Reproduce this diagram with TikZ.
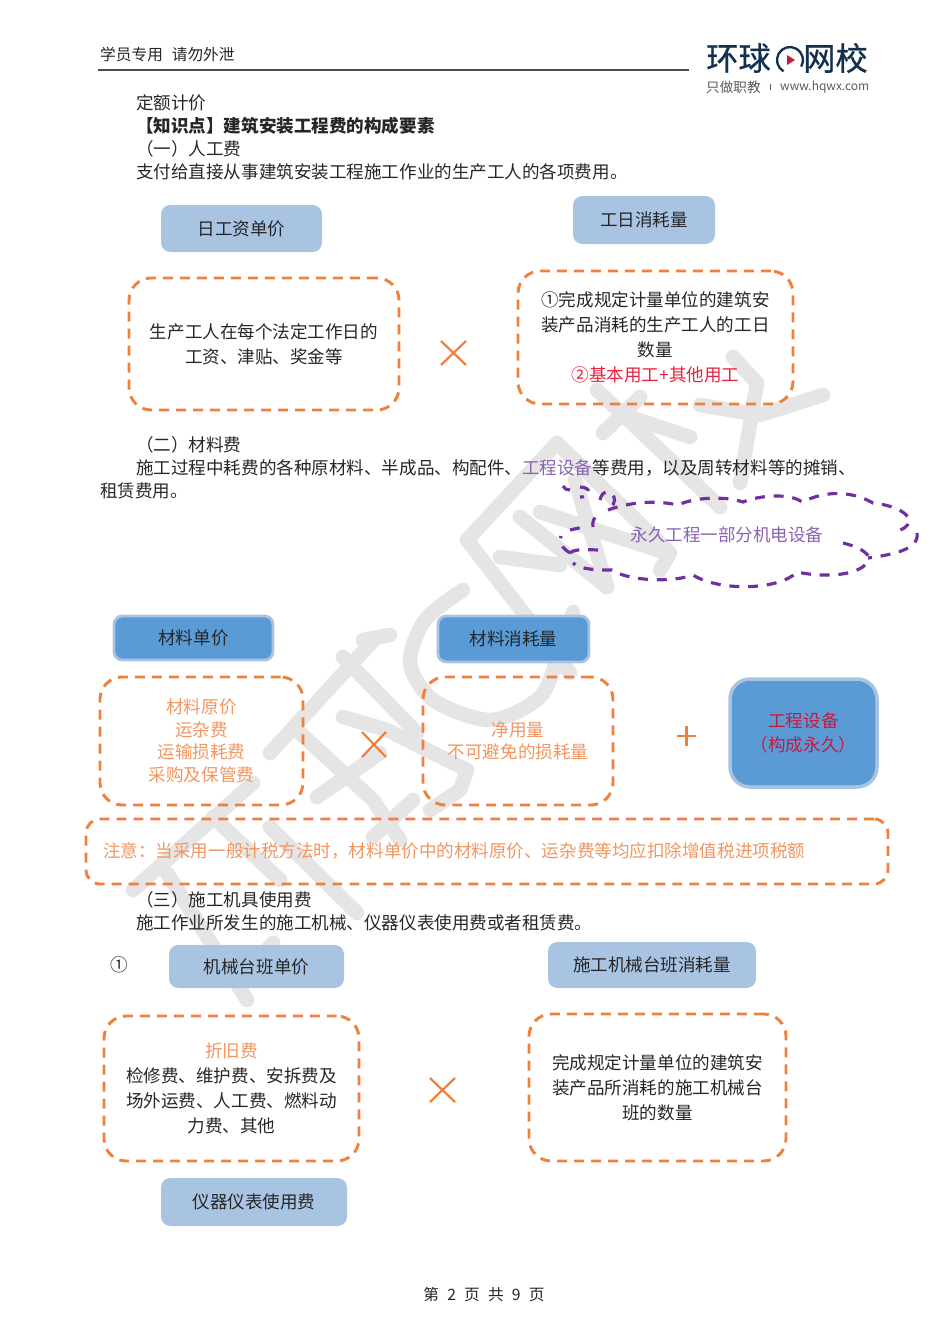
\documentclass[tikz,border=0pt]{standalone}
\usepackage{fontspec}
\setmainfont{Noto Sans CJK SC}
\newfontfamily\logofont[FakeBold=0.7]{Noto Sans CJK SC}
\usetikzlibrary{fit}
\usetikzlibrary{scopes}
\definecolor{paleblue}{HTML}{A9C4E3}
\definecolor{midblue}{HTML}{5B9BD5}
\definecolor{orangeline}{HTML}{F0803C}
\definecolor{orangetext}{HTML}{F2955E}
\definecolor{cloudline}{HTML}{7030A0}
\definecolor{cloudtext}{HTML}{8A62B2}
\definecolor{redtext}{HTML}{E8203C}
\definecolor{marktext}{HTML}{C8193F}
\definecolor{logoblue}{HTML}{14304F}
\definecolor{markgray}{HTML}{E5E5E5}
\tikzset{
    body/.style={inner sep=0pt,align=center,text=black!85,font=\fontsize{14.98}{21.2}\selectfont},
    line/.style={body,anchor=west},
    tight/.style={body,text=orangetext,font=\fontsize{14.98}{19.3}\selectfont},
    palebox/.style={inner sep=0pt,fill=paleblue,rounded corners=8pt},
    midbox/.style={inner sep=0pt,fill=midblue,draw=paleblue,line width=2.4pt,rounded corners=7pt},
    dashbox/.style={inner sep=0pt,draw=orangeline,line width=2.5pt,rounded corners=19pt,dash pattern=on 8.5pt off 6pt},
    cross/.style={draw=orangeline,line width=1.9pt},
    purple/.style={draw=cloudline,line width=2.7pt,dash pattern=on 8.5pt off 7.5pt},
    stroke/.style={draw=markgray,line width=12.5pt,line cap=round,line join=round},
}
\begin{document}
\begin{tikzpicture}[x=0.03cm,y=-0.03cm]
    \useasboundingbox (0,0) rectangle (950,1344);
    { [stroke]
        \draw (253,783) -- (133,890);
        \draw (213,817) -- (280,880);
        \draw (270,827) -- (357,913);
        \draw (167,873) -- (247,1000);
        \draw (273,943) -- (240,980);
        \draw (390,635) -- (363,640);
        \draw (372,642) -- (270,753);
        \draw (343,657) -- (417,733);
        \draw (343,717) -- (387,730) -- (467,770) -- (460,790) -- (430,810);
        \draw (300,733) -- (373,800) -- (400,840);
        \draw (413,800) -- (373,837);
        \draw (380,753) -- (317,797);
        \draw plot[smooth] coordinates {(463,590) (425,620) (410,663) (433,700) (490,720) (540,697) (560,650) (573,612)};
        \draw (557,443) -- (467,540) -- (570,673);
        \draw (557,443) -- (670,553) -- (660,570);
        \draw (520,517) -- (607,587);
        \draw (540,512) -- (667,553);
        \draw (500,557) -- (560,565);
        \draw (575,480) -- (607,587);
        \draw (640,397) -- (603,433);
        \draw (597,390) -- (720,507);
        \draw (630,417) -- (690,437);
        \draw (823,395) -- (760,415) -- (700,405);
        \draw (733,357) -- (757,383) -- (740,483);
    }
    \node[line,font=\fontsize{13.4}{16}\selectfont] (notice) at (100,55) {学员专用\hspace{7.5pt}请勿外泄};
    \coordinate (rulea) at (98,70);
    \coordinate (ruleb) at (689,70);
    \draw[black!70,line width=0.9pt] (rulea) -- (ruleb);
    \node[anchor=west,inner sep=0pt,text=logoblue,font=\fontsize{27.5}{30}\logofont] (logoa) at (706,58) {环球};
    \node[anchor=west,inner sep=0pt,text=logoblue,font=\fontsize{27.5}{30}\logofont] (logob) at (803,58) {网校};
    \draw[logoblue,line width=2pt] (783.5,71.3) arc (120:390:13);
    \fill[marktext] (787,55) -- (795,60) -- (787,65) -- cycle;
    \node[anchor=west,inner sep=0pt,text=black!65,font=\fontsize{11.6}{13}\selectfont] (logoc) at (706,87) {只做职教};
    \node[anchor=west,inner sep=0pt,text=black!65,font=\fontsize{10.2}{12}\selectfont] (logod) at (780,87) {www.hqwx.com};
    \fill[black!65] (770,84) rectangle (771,90);
    \node[line] (pricing) at (136,103) {定额计价};
    \node[line,font=\fontsize{14.98}{18}\bfseries] (topic) at (136,126) {【知识点】建筑安装工程费的构成要素};
    \node[line] (parta) at (136,149) {（一）人工费};
    \node[line] (partatext) at (136,172) {支付给直接从事建筑安装工程施工作业的生产工人的各项费用。};
    \node[palebox,fit={(161,205) (322,252)}] (dayrate) {};
    \node[body] (dayratetext) at (dayrate) {日工资单价};
    \node[palebox,fit={(573,196) (715,244)}] (dayuse) {};
    \node[body] (dayusetext) at (dayuse) {工日消耗量};
    \node[dashbox,fit={(129,278) (399,410)}] (daynote) {};
    \node[body] (daynotetext) at (daynote) {生产工人在每个法定工作日的\\工资、津贴、奖金等};
    \node[dashbox,fit={(518,271) (793,404)}] (usenote) {};
    \node[body] (usenotetext) at (usenote) {①完成规定计量单位的建筑安\\装产品消耗的生产工人的工日\\数量\\\textcolor{redtext}{②基本用工+其他用工}};
    \draw[cross] (441,341) -- (466,365);
    \draw[cross] (466,341) -- (441,365);
    \node[line] (partb) at (136,445) {（二）材料费};
    \node[line] (partbtext) at (136,468) {施工过程中耗费的各种原材料、半成品、构配件、\textcolor{cloudtext}{工程设备}等费用，以及周转材料等的摊销、};
    \node[line] (partbrest) at (100,491) {租赁费用。};
    { [purple]
        \draw (563,486) .. controls (564,489) and (567,490) .. (570,490);
        \draw (580,487) .. controls (592,487) and (592,498) .. (580,497);
        \draw (600,500) .. controls (602,490) and (610,490) .. (614,497) .. controls (616,502) and (612,507) .. (608,510);
        \draw (608,510) .. controls (630,502) and (655,500) .. (678,505) .. controls (695,497) and (725,496) .. (743,502) .. controls (760,495) and (790,493) .. (802,502) .. controls (825,491) and (850,490) .. (873,503) .. controls (890,505) and (905,510) .. (910,520) .. controls (908,527) and (902,530) .. (895,532);
        \draw (917,533) .. controls (920,550) and (890,555) .. (868,558);
        \draw (843,543) .. controls (855,546) and (865,550) .. (870,558);
        \draw (865,565) .. controls (855,575) and (825,578) .. (797,572) .. controls (780,590) and (720,592) .. (693,575) .. controls (675,582) and (630,582) .. (612,570) .. controls (600,570) and (580,570) .. (573,563);
        \draw (570,553) .. controls (575,548) and (590,550) .. (600,550);
        \draw (570,553) .. controls (562,548) and (558,542) .. (561,536);
        \draw (570,530) -- (583,527);
        \draw (593,527) .. controls (592,522) and (594,518) .. (597,515);
    }
    \node[body,text=cloudtext] (cloudnote) at (727,535) {永久工程一部分机电设备};
    \node[midbox,fit={(114,616) (273,660)}] (matrate) {};
    \node[body] (matratetext) at (matrate) {材料单价};
    \node[midbox,fit={(438,616) (589,662)}] (matuse) {};
    \node[body] (matusetext) at (matuse) {材料消耗量};
    \node[dashbox,fit={(100,677) (303,805)}] (matnote) {};
    \node[tight] (matnotetext) at (matnote) {材料原价\\运杂费\\运输损耗费\\采购及保管费};
    \node[dashbox,fit={(423,677) (613,805)}] (usagenote) {};
    \node[tight] (usagenotetext) at (usagenote) {净用量\\不可避免的损耗量};
    \draw[cross] (362,732) -- (386,757);
    \draw[cross] (386,732) -- (362,757);
    \draw[cross] (677,736) -- (696,736);
    \draw[cross] (686.5,726) -- (686.5,746);
    \node[midbox,line width=3pt,rounded corners=17pt,fit={(730,679) (877,787)}] (equipment) {};
    \node[body,text=marktext] (equipmenttext) at (equipment) {工程设备\\（构成永久）};
    \node[dashbox,rounded corners=12pt,fit={(86,819) (888,884)}] (taxbox) {};
    \node[line,text=orangetext] (taxnote) at (103,851) {注意：当采用一般计税方法时，材料单价中的材料原价、运杂费等均应扣除增值税进项税额};
    \node[line] (partc) at (136,900) {（三）施工机具使用费};
    \node[line] (partctext) at (136,923) {施工作业所发生的施工机械、仪器仪表使用费或者租赁费。};
    \node[body] (first) at (119,965) {①};
    \node[palebox,fit={(169,945) (344,988)}] (machrate) {};
    \node[body] (machratetext) at (machrate) {机械台班单价};
    \node[palebox,fit={(548,942) (756,988)}] (machuse) {};
    \node[body] (machusetext) at (machuse) {施工机械台班消耗量};
    \node[dashbox,fit={(104,1016) (359,1161)}] (machnote) {};
    \node[body] (machnotetext) at (machnote) {\textcolor{orangetext}{折旧费}\\检修费、维护费、安拆费及\\场外运费、人工费、燃料动\\力费、其他};
    \node[dashbox,fit={(529,1014) (786,1161)}] (shiftnote) {};
    \node[body] (shiftnotetext) at (shiftnote) {完成规定计量单位的建筑安\\装产品所消耗的施工机械台\\班的数量};
    \draw[cross] (430,1078) -- (455,1102);
    \draw[cross] (455,1078) -- (430,1102);
    \node[palebox,fit={(161,1178) (347,1226)}] (meterrate) {};
    \node[body] (meterratetext) at (meterrate) {仪器仪表使用费};
    \node[body,font=\fontsize{13.4}{16}\selectfont] (footer) at (484,1295) {第\hspace{7pt}2\hspace{7pt}页\hspace{7pt}共\hspace{7pt}9\hspace{7pt}页};
\end{tikzpicture}
\end{document}
